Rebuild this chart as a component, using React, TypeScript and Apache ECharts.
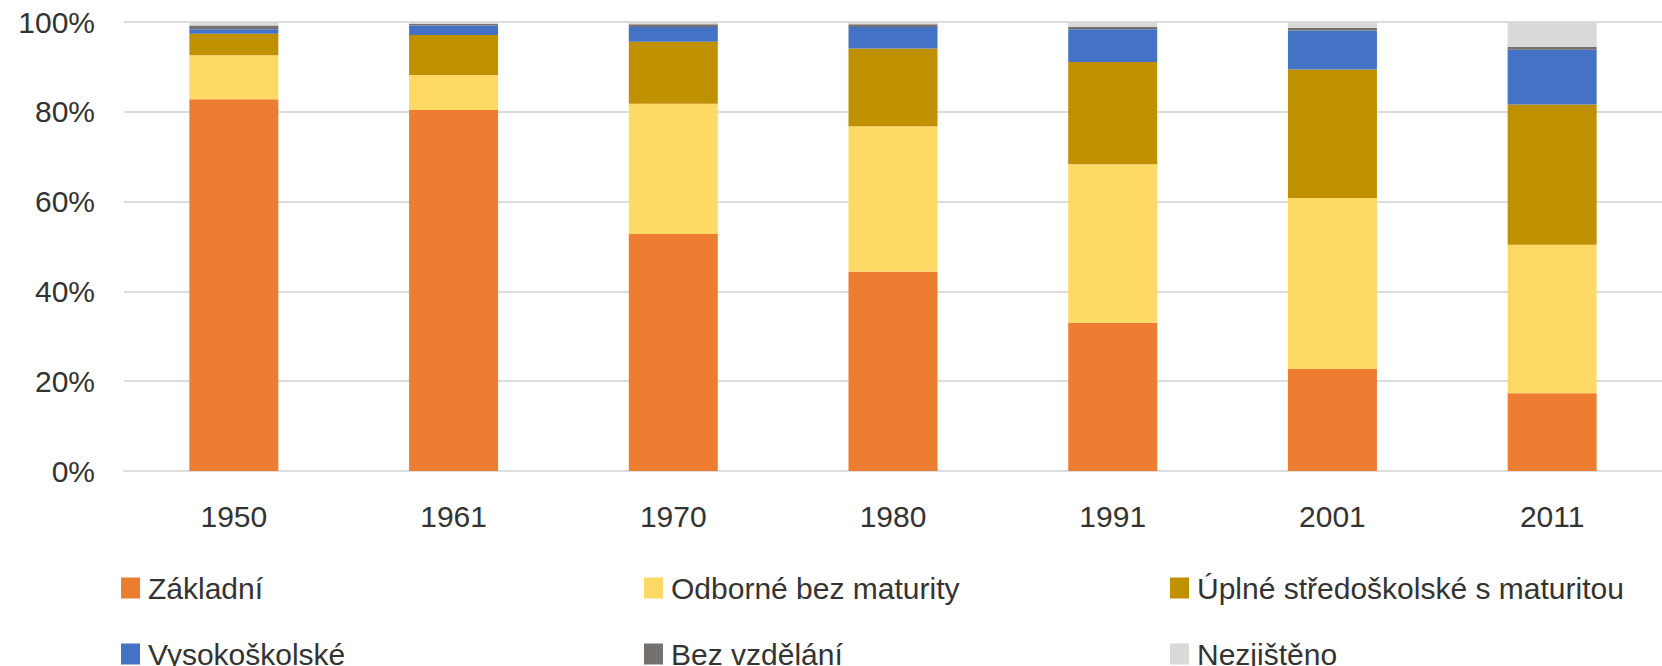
import React, { useEffect, useRef } from "react";
import * as echarts from "echarts";

const categories = ["1950", "1961", "1970", "1980", "1991", "2001", "2011"];
const zakladni = [82.8, 80.4, 52.8, 44.4, 33.0, 22.7, 17.3];
const odborne = [9.8, 7.8, 29.0, 32.4, 35.3, 38.1, 33.1];
const uplne = [4.8, 8.9, 13.8, 17.3, 22.8, 28.6, 31.2];
const vysokoskolske = [1.0, 2.1, 3.3, 4.8, 7.3, 8.7, 12.2];
const bezVzdelani = [0.8, 0.4, 0.6, 0.6, 0.5, 0.6, 0.7];
const nezjisteno = [0.8, 0.4, 0.5, 0.5, 1.1, 1.3, 5.5];

const seriesNames = [
  "Základní",
  "Odborné bez maturity",
  "Úplné středoškolské s maturitou",
  "Vysokoškolské",
  "Bez vzdělání",
  "Nezjištěno",
];
const seriesData = [zakladni, odborne, uplne, vysokoskolske, bezVzdelani, nezjisteno];
const colors = ["#ED7D31", "#FFD966", "#BF9000", "#4472C4", "#767171", "#D9D9D9"];

const FONT = "'Liberation Sans', Arial, sans-serif";
const TEXT = "#333333";

export default function App() {
  const ref = useRef<HTMLDivElement>(null);
  useEffect(() => {
    document.body.style.margin = "0";
    if (!ref.current) return;
    const chart = echarts.init(ref.current, undefined, { renderer: "svg" });
    const legendPos = [
      { left: 121, top: 573 },
      { left: 644, top: 573 },
      { left: 1170, top: 573 },
      { left: 121, top: 639 },
      { left: 644, top: 639 },
      { left: 1170, top: 639 },
    ];
    chart.setOption({
      animation: false,
      color: colors,
      grid: { left: 124, top: 22, width: 1558, height: 449 },
      xAxis: {
        type: "category",
        data: categories,
        axisTick: { show: false },
        axisLine: { lineStyle: { color: "#DDDDDD", width: 2 } },
        axisLabel: { margin: 30, fontSize: 30, fontFamily: FONT, color: TEXT },
      },
      yAxis: {
        type: "value",
        min: 0,
        max: 100,
        interval: 20,
        axisLine: { show: false },
        axisTick: { show: false },
        splitLine: { lineStyle: { color: "#DDDDDD", width: 2 } },
        axisLabel: {
          margin: 29,
          fontSize: 30,
          fontFamily: FONT,
          color: TEXT,
          formatter: "{value}%",
        },
      },
      legend: seriesNames.map((name, i) => ({
        data: [name],
        left: legendPos[i].left,
        top: legendPos[i].top,
        padding: 0,
        itemWidth: 19,
        itemHeight: 21,
        selectedMode: false,
        icon: "rect",
        textStyle: {
          fontSize: 30,
          fontFamily: FONT,
          color: TEXT,
          padding: [0, 0, 0, 3],
        },
      })),
      series: seriesNames.map((name, i) => ({
        name,
        type: "bar",
        stack: "total",
        barWidth: 89,
        data: seriesData[i],
        itemStyle: { color: colors[i] },
      })),
    });
    return () => chart.dispose();
  }, []);
  return (
    <div
      ref={ref}
      style={{ position: "absolute", left: 0, top: 0, width: 1662, height: 666 }}
    />
  );
}
